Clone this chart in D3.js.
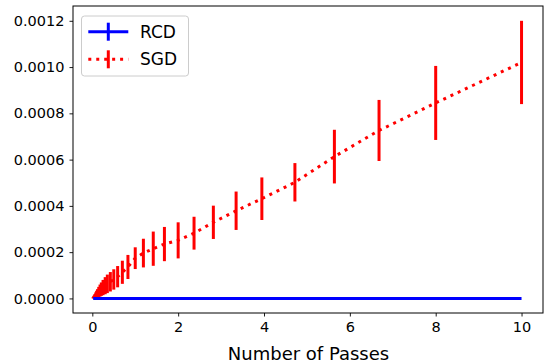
<!DOCTYPE html>
<html>
<head>
<meta charset="utf-8">
<script src="https://cdn.jsdelivr.net/npm/d3@7"></script>
<style>
  body { margin: 0; background: #fff; }
  svg text { font-family: "DejaVu Sans", sans-serif; fill: #000; }
</style>
</head>
<body>
<svg id="chart" width="547" height="364"></svg>
<script>
// number of passes (x) where both methods were sampled
const passes = [0.02, 0.04, 0.06, 0.08, 0.10, 0.12, 0.15, 0.18, 0.21, 0.25,
  0.30, 0.35, 0.42, 0.50, 0.59, 0.70, 0.83, 1.0, 1.19, 1.42,
  1.68, 2.0, 2.37, 2.82, 3.35, 3.95, 4.72, 5.64, 6.68, 8.0, 10.0];
const sgdMean = [0.000003, 0.000006, 0.000010, 0.000014, 0.000018, 0.000022, 0.000028, 0.000034, 0.000040, 0.000047,
  0.000055, 0.000063, 0.000072, 0.000082, 0.000094, 0.000113, 0.000136, 0.000174, 0.000196, 0.000215,
  0.000235, 0.000251, 0.000282, 0.000329, 0.000379, 0.000431, 0.000502, 0.000613, 0.000726, 0.000845, 0.001020];
const sgdErr = [0.000003, 0.000006, 0.000009, 0.000012, 0.000015, 0.000018, 0.000022, 0.000026, 0.000029, 0.000033,
  0.000037, 0.000040, 0.000042, 0.000044, 0.000046, 0.000050, 0.000052, 0.000047, 0.000062, 0.000074,
  0.000074, 0.000078, 0.000071, 0.000072, 0.000083, 0.000092, 0.000083, 0.000116, 0.000132, 0.000160, 0.000180];
const rcdMean = [0, 0, 0, 0, 0, 0, 0, 0, 0, 0, 0, 0, 0, 0, 0, 0, 0, 0, 0, 0, 0, 0, 0, 0, 0, 0, 0, 0, 0, 0, 0];
const rcdErr = [0, 0, 0, 0, 0, 0, 0, 0, 0, 0, 0, 0, 0, 0, 0, 0, 0, 0, 0, 0, 0, 0, 0, 0, 0, 0, 0, 0, 0, 0, 0];
const xTicks = [0, 2, 4, 6, 8, 10];
const yTicks = [0, 0.0002, 0.0004, 0.0006, 0.0008, 0.0010, 0.0012];
const seriesNames = ['RCD', 'SGD'];

const margin = { top: 6, right: 4, bottom: 51, left: 73 };
const W = 547, H = 364;
const svg = d3.select('#chart');

const x = d3.scaleLinear().domain([-0.45, 10.5]).range([margin.left, W - margin.right]);
const y = d3.scaleLinear().domain([-0.000063, 0.001264]).range([H - margin.bottom, margin.top]);

const sgd = passes.map((p, i) => ({ x: p, y: sgdMean[i], e: sgdErr[i] }));
const rcd = passes.map((p, i) => ({ x: p, y: rcdMean[i], e: rcdErr[i] }));

const line = d3.line().x(d => x(d.x)).y(d => y(d.y));

/// SGD: dotted mean line plus vertical error bars
const gSgd = svg.append('g');
gSgd.append('path')
  .datum(sgd)
  .attr('fill', 'none')
  .attr('stroke', '#ff0000')
  .attr('stroke-width', 3)
  .attr('stroke-dasharray', '3,4.95')
  .attr('d', line);
gSgd.selectAll('line')
  .data(sgd)
  .join('line')
  .attr('stroke', '#ff0000')
  .attr('stroke-width', 3)
  .attr('x1', d => x(d.x)).attr('x2', d => x(d.x))
  .attr('y1', d => y(d.y - d.e)).attr('y2', d => y(d.y + d.e));

/// RCD: solid blue on top
const gRcd = svg.append('g');
gRcd.append('path')
  .datum(rcd)
  .attr('fill', 'none')
  .attr('stroke', '#0000ff')
  .attr('stroke-width', 3)
  .attr('d', line);
gRcd.selectAll('line')
  .data(rcd)
  .join('line')
  .attr('stroke', '#0000ff')
  .attr('stroke-width', 3)
  .attr('x1', d => x(d.x)).attr('x2', d => x(d.x))
  .attr('y1', d => y(d.y - d.e)).attr('y2', d => y(d.y + d.e));

/** axes */
const xAxis = svg.append('g')
  .attr('transform', `translate(0,${H - margin.bottom})`)
  .call(d3.axisBottom(x).tickValues(xTicks).tickSize(3.5).tickPadding(5).tickFormat(d3.format('d')));
const yAxis = svg.append('g')
  .attr('transform', `translate(${margin.left},0)`)
  .call(d3.axisLeft(y).tickValues(yTicks).tickSize(3.5).tickPadding(5).tickFormat(d3.format('.4f')));
[xAxis, yAxis].forEach(a => {
  a.select('.domain').remove();
  a.selectAll('.tick line').attr('stroke', '#000').attr('stroke-width', 0.9);
  a.selectAll('.tick text').style('font-size', '14.5px').attr('fill', '#222');
});

// frame
svg.append('rect')
  .attr('x', margin.left).attr('y', margin.top)
  .attr('width', W - margin.right - margin.left)
  .attr('height', H - margin.bottom - margin.top)
  .attr('fill', 'none').attr('stroke', '#000').attr('stroke-width', 1);

svg.append('text')
  .attr('x', (margin.left + W - margin.right) / 2 + 0.5)
  .attr('y', 360)
  .attr('text-anchor', 'middle')
  .style('font-size', '18px')
  .attr('fill', '#222')
  .text('Number of Passes');

/// legend
const lg = svg.append('g');
lg.append('rect')
  .attr('x', 81.5).attr('y', 16).attr('width', 107).attr('height', 60).attr('rx', 3)
  .attr('fill', '#fff').attr('fill-opacity', 0.8)
  .attr('stroke', '#cccccc').attr('stroke-width', 1);
const legendRows = [
  { name: seriesNames[0], color: '#0000ff', dash: null, cy: 31.7 },
  { name: seriesNames[1], color: '#ff0000', dash: '3,4.95', cy: 59.3 }
];
legendRows.forEach(r => {
  lg.append('line')
    .attr('x1', 88.3).attr('x2', 128.3).attr('y1', r.cy).attr('y2', r.cy)
    .attr('stroke', r.color).attr('stroke-width', 3)
    .attr('stroke-dasharray', r.dash);
  lg.append('line')
    .attr('x1', 108.3).attr('x2', 108.3).attr('y1', r.cy - 9).attr('y2', r.cy + 9)
    .attr('stroke', r.color).attr('stroke-width', 3);
  lg.append('text')
    .attr('x', 140).attr('y', r.cy + 6)
    .style('font-size', '17px')
    .attr('fill', '#222')
    .text(r.name);
});
</script>
</body>
</html>
